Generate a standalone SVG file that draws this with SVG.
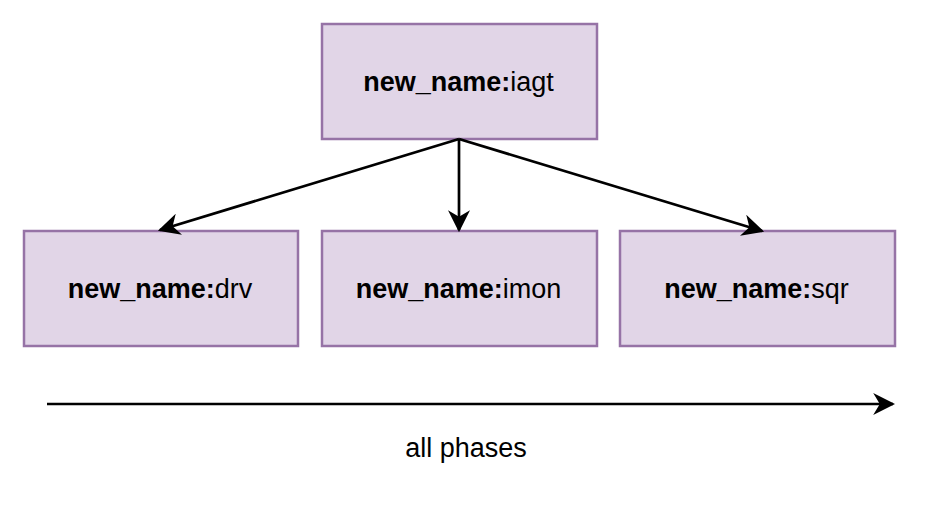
<svg xmlns="http://www.w3.org/2000/svg" width="937" height="508" viewBox="0 0 937 508">
<style>
.box{fill:#e1d5e7;stroke:#9673a6;stroke-width:2.5}
.t{font-family:"Liberation Sans",Arial,sans-serif;font-size:27px;fill:#000;text-anchor:middle}
.b{font-weight:bold}
.c{stroke:#000;stroke-width:2.7;fill:none}
</style>
<defs>
<marker id="ah2" viewBox="0 0 10 10" refX="9" refY="5" markerWidth="22" markerHeight="22" markerUnits="userSpaceOnUse" orient="auto">
<path d="M0,0 L10,5 L0,10 L3,5 Z" fill="#000"/>
</marker>
</defs>
<g id="iagt"><rect class="box" x="322" y="24" width="275" height="115"/><text class="t" x="458.5" y="91"><tspan class="b">new_name:</tspan>iagt</text></g>
<g id="drv"><rect class="box" x="24" y="231" width="274" height="115"/><text class="t" x="160" y="298"><tspan class="b">new_name:</tspan>drv</text></g>
<g id="imon"><rect class="box" x="322" y="231" width="275" height="115"/><text class="t" x="458.5" y="298"><tspan class="b">new_name:</tspan>imon</text></g>
<g id="sqr"><rect class="box" x="620" y="231" width="275" height="115"/><text class="t" x="756.5" y="298"><tspan class="b">new_name:</tspan>sqr</text></g>
<g id="connectors">
<line class="c" x1="459" y1="139" x2="160" y2="230" marker-end="url(#ah2)"/>
<line class="c" x1="459" y1="139" x2="459" y2="230" marker-end="url(#ah2)"/>
<line class="c" x1="459" y1="139" x2="762" y2="231" marker-end="url(#ah2)"/>
<line class="c" x1="47" y1="404" x2="893" y2="404" marker-end="url(#ah2)"/>
</g>
<text class="t" x="466" y="457">all phases</text>
</svg>
